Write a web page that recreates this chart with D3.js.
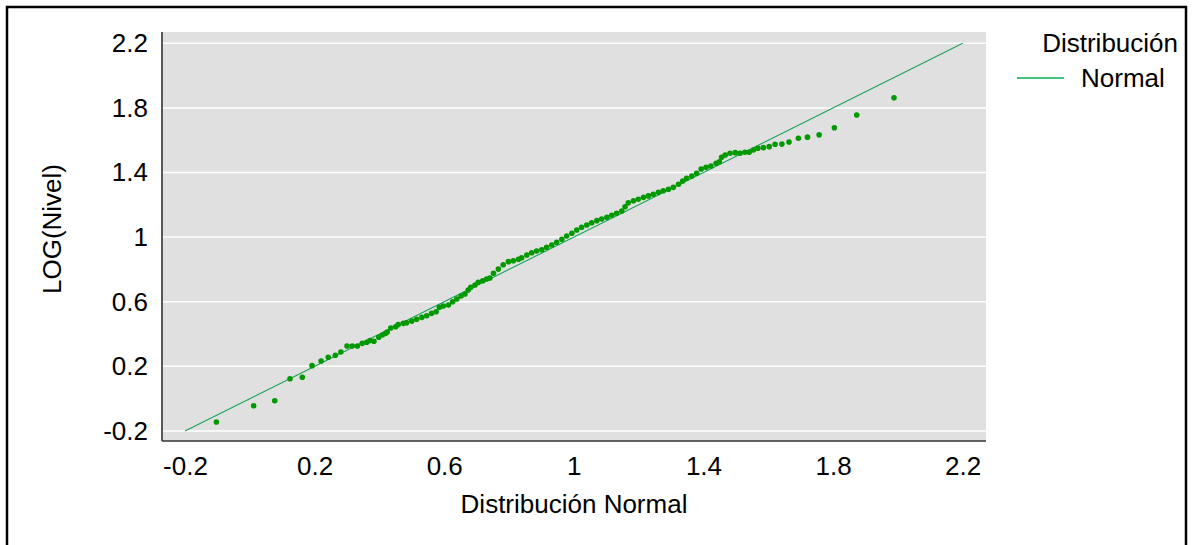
<!DOCTYPE html>
<html>
<head>
<meta charset="utf-8">
<script src="https://cdn.jsdelivr.net/npm/d3@7"></script>
<style>
  html, body { margin: 0; padding: 0; background: #fff; }
  svg { display: block; }
  text { font-family: "Liberation Sans", Arial, sans-serif; fill: #000; }
</style>
</head>
<body>
<svg id="chart" width="1192" height="545"></svg>
<script>
// Theoretical normal quantiles (x) and sorted LOG(Nivel) observations (y)
const qqX = [
  -0.103, 0.012, 0.077, 0.124, 0.162, 0.192, 0.220, 0.242, 0.264, 0.281,
  0.300, 0.316, 0.332, 0.347, 0.361, 0.371, 0.383, 0.398, 0.409, 0.419,
  0.424, 0.435, 0.450, 0.458, 0.474, 0.484, 0.500, 0.515, 0.531, 0.546,
  0.561, 0.575, 0.585, 0.597, 0.613, 0.626, 0.639, 0.652, 0.664, 0.674,
  0.682, 0.695, 0.705, 0.719, 0.731, 0.741, 0.752, 0.767, 0.782, 0.798,
  0.813, 0.829, 0.839, 0.855, 0.870, 0.885, 0.901, 0.916, 0.932, 0.947,
  0.963, 0.978, 0.994, 1.009, 1.024, 1.040, 1.055, 1.071, 1.086, 1.102,
  1.117, 1.132, 1.148, 1.158, 1.168, 1.184, 1.199, 1.215, 1.230, 1.245,
  1.261, 1.276, 1.292, 1.307, 1.323, 1.336, 1.348, 1.364, 1.379, 1.393,
  1.408, 1.423, 1.439, 1.449, 1.456, 1.467, 1.482, 1.498, 1.513, 1.528,
  1.541, 1.554, 1.568, 1.585, 1.603, 1.621, 1.642, 1.664, 1.693, 1.721,
  1.757, 1.804, 1.873, 1.988
];
const qqY = [
  -0.145, -0.044, -0.013, 0.123, 0.132, 0.204, 0.233, 0.256, 0.268, 0.289,
  0.326, 0.326, 0.326, 0.342, 0.349, 0.359, 0.355, 0.380, 0.394, 0.404,
  0.412, 0.437, 0.445, 0.458, 0.466, 0.470, 0.480, 0.491, 0.503, 0.513,
  0.528, 0.538, 0.565, 0.573, 0.580, 0.600, 0.617, 0.635, 0.648, 0.672,
  0.689, 0.703, 0.720, 0.730, 0.741, 0.747, 0.776, 0.802, 0.829, 0.848,
  0.854, 0.863, 0.872, 0.889, 0.903, 0.914, 0.922, 0.937, 0.951, 0.968,
  0.986, 1.007, 1.024, 1.044, 1.061, 1.075, 1.089, 1.102, 1.112, 1.123,
  1.135, 1.147, 1.162, 1.188, 1.213, 1.225, 1.234, 1.246, 1.255, 1.265,
  1.277, 1.287, 1.296, 1.308, 1.327, 1.347, 1.364, 1.378, 1.395, 1.422,
  1.432, 1.440, 1.457, 1.467, 1.494, 1.508, 1.519, 1.523, 1.519, 1.525,
  1.525, 1.539, 1.550, 1.554, 1.560, 1.575, 1.576, 1.589, 1.612, 1.619,
  1.633, 1.677, 1.756, 1.863
];

// Reference line of the normal distribution
const refLine = [[-0.2, -0.2], [2.2, 2.2]];

const xTicks = [-0.2, 0.2, 0.6, 1, 1.4, 1.8, 2.2];
const yTicks = [-0.2, 0.2, 0.6, 1, 1.4, 1.8, 2.2];

const xTitle = "Distribución Normal";
const yTitle = "LOG(Nivel)";
const legendTitle = "Distribución";
const legendItem = "Normal";

const svg = d3.select("#chart");

// Plot panel
const panel = { left: 162, right: 986, top: 32, bottom: 441 };

const x = d3.scaleLinear().domain([-0.2, 2.2]).range([185, 962.7]);
const y = d3.scaleLinear().domain([-0.2, 2.2]).range([430.9, 43.3]);

// Outer frame
svg.append("rect")
  .attr("x", 7).attr("y", 7)
  .attr("width", 1179).attr("height", 560)
  .attr("fill", "none")
  .attr("stroke", "#000")
  .attr("stroke-width", 2.5);

svg.append("rect")
  .attr("x", panel.left).attr("y", panel.top)
  .attr("width", panel.right - panel.left)
  .attr("height", panel.bottom - panel.top)
  .attr("fill", "#e0e0e0");

// Horizontal gridlines
svg.append("g")
  .selectAll("line")
  .data(yTicks)
  .join("line")
  .attr("x1", panel.left).attr("x2", panel.right)
  .attr("y1", d => y(d)).attr("y2", d => y(d))
  .attr("stroke", "#fff")
  .attr("stroke-width", 1.5);

// Reference line
svg.append("line")
  .attr("x1", x(refLine[0][0])).attr("y1", y(refLine[0][1]))
  .attr("x2", x(refLine[1][0])).attr("y2", y(refLine[1][1]))
  .attr("stroke", "#1aa35c")
  .attr("stroke-width", 1.1);

// Observations
svg.append("g")
  .selectAll("circle")
  .data(qqX.map((v, i) => [v, qqY[i]]))
  .join("circle")
  .attr("cx", d => x(d[0]))
  .attr("cy", d => y(d[1]))
  .attr("r", 2.8)
  .attr("fill", "#009a00");

// Axes
const fmt = d => String(d);

const xAxis = d3.axisBottom(x)
  .tickValues(xTicks).tickFormat(fmt)
  .tickSize(0).tickPadding(16);

const gx = svg.append("g")
  .attr("transform", `translate(0,${panel.bottom})`)
  .call(xAxis);
gx.select(".domain").remove();
gx.selectAll("text")
  .attr("font-size", 26)
  .attr("font-family", "Liberation Sans, Arial, sans-serif")
  .attr("fill", "#000");

const yAxis = d3.axisLeft(y)
  .tickValues(yTicks).tickFormat(fmt)
  .tickSize(0).tickPadding(14);

const gy = svg.append("g")
  .attr("transform", `translate(${panel.left},0)`)
  .call(yAxis);
gy.select(".domain").remove();
gy.selectAll("text")
  .attr("font-size", 26)
  .attr("font-family", "Liberation Sans, Arial, sans-serif")
  .attr("fill", "#000");

// Axis lines (left and bottom of the panel)
svg.append("line")
  .attr("x1", panel.left).attr("x2", panel.left)
  .attr("y1", panel.top).attr("y2", panel.bottom)
  .attr("stroke", "#333").attr("stroke-width", 1.6);
svg.append("line")
  .attr("x1", panel.left).attr("x2", panel.right)
  .attr("y1", panel.bottom).attr("y2", panel.bottom)
  .attr("stroke", "#333").attr("stroke-width", 1.6);

// Axis titles
svg.append("text")
  .attr("x", (panel.left + panel.right) / 2)
  .attr("y", 513)
  .attr("text-anchor", "middle")
  .attr("font-size", 26)
  .text(xTitle);

svg.append("text")
  .attr("transform", "translate(61,229) rotate(-90)")
  .attr("text-anchor", "middle")
  .attr("font-size", 26)
  .text(yTitle);

// Legend
svg.append("text")
  .attr("x", 1178).attr("y", 52)
  .attr("text-anchor", "end")
  .attr("font-size", 26)
  .text(legendTitle);

svg.append("line")
  .attr("x1", 1017).attr("x2", 1064)
  .attr("y1", 78).attr("y2", 78)
  .attr("stroke", "#00b050")
  .attr("stroke-width", 1.5);

svg.append("text")
  .attr("x", 1081).attr("y", 87)
  .attr("font-size", 26)
  .text(legendItem);
</script>
</body>
</html>
